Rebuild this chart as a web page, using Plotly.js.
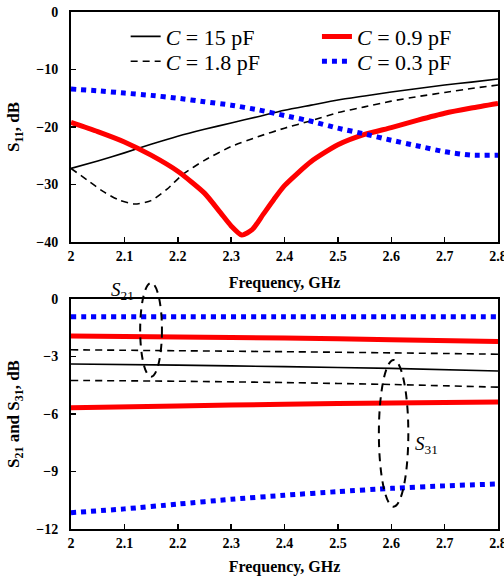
<!DOCTYPE html>
<html>
<head>
<meta charset="utf-8">
<script src="https://cdn.plot.ly/plotly-3.0.1.min.js"></script>
<style>html,body{margin:0;padding:0;background:#fff;}#chart{width:504px;height:581px;}</style>
</head>
<body>
<div id="chart"></div>
<script>
// ---- Top panel: S11 (dB) ----
const freqTop = [2.0,2.05,2.1,2.15,2.2,2.25,2.3,2.35,2.4,2.45,2.5,2.55,2.6,2.65,2.7,2.75,2.8];
const s11_C15 = [-27.2,-25.9,-24.5,-23.0,-21.6,-20.4,-19.3,-18.2,-17.1,-16.2,-15.3,-14.6,-13.9,-13.3,-12.7,-12.2,-11.65];
const s11_C03 = [-13.4,-13.7,-14.1,-14.5,-15.0,-15.6,-16.2,-17.0,-18.0,-19.0,-20.2,-21.2,-22.3,-23.3,-24.3,-24.9,-24.9];
const freqC18 = [2.0,2.03,2.06,2.09,2.12,2.15,2.18,2.21,2.25,2.3,2.35,2.4,2.45,2.5,2.55,2.6,2.65,2.7,2.75,2.8];
const s11_C18 = [-27.2,-29.2,-31.2,-32.7,-33.4,-32.8,-30.8,-28.2,-25.8,-23.4,-21.7,-20.2,-18.9,-17.5,-16.5,-15.5,-14.7,-14.0,-13.3,-12.7];
const freqC09 = [2.0,2.05,2.1,2.15,2.2,2.25,2.28,2.3,2.32,2.34,2.36,2.38,2.4,2.45,2.5,2.55,2.6,2.65,2.7,2.75,2.8];
const s11_C09 = [-19.2,-20.8,-22.6,-24.9,-27.7,-31.5,-34.9,-37.2,-38.8,-37.8,-35.2,-32.6,-30.2,-26.0,-23.1,-21.3,-20.1,-18.8,-17.6,-16.7,-15.9];

// ---- Bottom panel: S21 and S31 (dB) ----
const freqBot = [2.0,2.2,2.4,2.6,2.8];
const s21_C03 = [-0.93,-0.93,-0.93,-0.93,-0.93];
const s21_C09 = [-1.93,-1.98,-2.04,-2.12,-2.22];
const s21_C18 = [-2.65,-2.70,-2.75,-2.81,-2.88];
const s21_C15 = [-3.39,-3.45,-3.53,-3.62,-3.76];
const s31_C18 = [-4.25,-4.29,-4.36,-4.46,-4.60];
const s31_C09 = [-5.67,-5.58,-5.49,-5.42,-5.38];
const freqS31C03 = [2.0,2.1,2.2,2.3,2.4,2.5,2.6,2.7,2.8];
const s31_C03 = [-11.15,-10.95,-10.70,-10.45,-10.24,-10.05,-9.88,-9.75,-9.65];

const legendNames = ['<i>C</i> = 15 pF','<i>C</i> = 1.8 pF','<i>C</i> = 0.9 pF','<i>C</i> = 0.3 pF'];
const tickX = ['2','2.1','2.2','2.3','2.4','2.5','2.6','2.7','2.8'];

const FONT = '"Liberation Serif", "Times New Roman", serif';
const sty = {
  c15: {color:'#000000', width:1.6, dash:'solid'},
  c18: {color:'#000000', width:1.6, dash:'7px,5px'},
  c09: {color:'#ff0000', width:5, dash:'solid'},
  c03: {color:'#0000ff', width:5, dash:'dot'}
};
function tr(x,y,s,name,xa,ya,show,leg){
  const t = {x:x,y:y,type:'scatter',mode:'lines',line:Object.assign({shape:'spline',smoothing:0.6},s),
    name:name,showlegend:show,xaxis:xa,yaxis:ya,hoverinfo:'skip'};
  if(leg) t.legend = leg;
  return t;
}
const data = [
  tr(freqTop,s11_C15,sty.c15,legendNames[0],'x','y',true,'legend'),
  tr(freqC18,s11_C18,sty.c18,legendNames[1],'x','y',true,'legend2'),
  tr(freqC09,s11_C09,sty.c09,legendNames[2],'x','y',true,'legend3'),
  tr(freqTop,s11_C03,sty.c03,legendNames[3],'x','y',true,'legend4'),
  tr(freqBot,s21_C03,sty.c03,'','x2','y2',false),
  tr(freqBot,s21_C09,sty.c09,'','x2','y2',false),
  tr(freqBot,s21_C18,sty.c18,'','x2','y2',false),
  tr(freqBot,s21_C15,sty.c15,'','x2','y2',false),
  tr(freqBot,s31_C18,sty.c18,'','x2','y2',false),
  tr(freqBot,s31_C09,sty.c09,'','x2','y2',false),
  tr(freqS31C03,s31_C03,sty.c03,'','x2','y2',false)
];

const tickFont = {family:FONT,size:14,color:'#000',weight:'bold'};
const titleFont = {family:FONT,size:16,color:'#000',weight:'bold'};
function xAx(anchor,standoff){
  return {anchor:anchor,range:[2,2.8],tickvals:[2,2.1,2.2,2.3,2.4,2.5,2.6,2.7,2.8],ticktext:tickX,
    ticks:'inside',ticklen:5,tickwidth:1.5,tickcolor:'#000',showline:true,linewidth:2,linecolor:'#000',
    mirror:true,showgrid:false,zeroline:false,tickfont:tickFont,ticklabelstandoff:0,ticklabeloverflow:'allow',
    title:{text:'Frequency, GHz',font:titleFont,standoff:standoff},automargin:false,fixedrange:true};
}
function yAx(anchor,domain,range,dt,title){
  return {anchor:anchor,domain:domain,range:range,dtick:dt,tick0:0,
    ticks:'inside',ticklen:5,tickwidth:1.5,tickcolor:'#000',showline:true,linewidth:2,linecolor:'#000',
    mirror:true,showgrid:false,zeroline:false,tickfont:tickFont,ticklabelstandoff:8,ticklabeloverflow:'allow',
    title:{text:title,font:{family:FONT,size:17,color:'#000',weight:'bold'},standoff:12},automargin:false,fixedrange:true};
}
const legFont = {family:FONT,size:22,color:'#000'};
function leg(x,y){
  return {orientation:'v',x:x,y:y,xanchor:'left',yanchor:'top',
    bgcolor:'rgba(0,0,0,0)',borderwidth:0,font:legFont,traceorder:'normal'};
}

const layout = {
  width:504,height:581,
  margin:{l:71,r:6,t:12,b:52},
  paper_bgcolor:'#fff',plot_bgcolor:'#fff',
  font:{family:FONT,color:'#000'},
  xaxis:xAx('y',14),
  yaxis:yAx('x',[0.5551,1],[-40,0],10,'S<sub>11</sub>, dB'),
  xaxis2:xAx('y2',11),
  yaxis2:yAx('x2',[0,0.4449],[-12,0],3,'S<sub>21</sub> and S<sub>31</sub>, dB'),
  showlegend:true,
  legend:leg(0.128,0.993),
  legend2:leg(0.128,0.945),
  legend3:leg(0.576,0.993),
  legend4:leg(0.576,0.945),
  shapes:[
    {type:'circle',xref:'x2 domain',yref:'y2 domain',x0:0.162,x1:0.213,y0:0.662,y1:1.07,
     line:{color:'#000',width:2,dash:'8px,6px'}},
    {type:'circle',xref:'x2 domain',yref:'y2 domain',x0:0.721,x1:0.79,y0:0.097,y1:0.735,
     line:{color:'#000',width:2,dash:'8px,6px'}}
  ],
  annotations:[
    {xref:'x2 domain',yref:'y2 domain',x:0.12,y:1.035,text:'<i>S</i><sub>21</sub>',showarrow:false,
     font:{family:FONT,size:19,color:'#000'},xanchor:'center',yanchor:'middle'},
    {xref:'x2 domain',yref:'y2 domain',x:0.8,y:0.365,text:'<i>S</i><sub>31</sub>',showarrow:false,
     font:{family:FONT,size:19,color:'#000'},xanchor:'left',yanchor:'middle'}
  ]
};

Plotly.newPlot('chart',data,layout,{staticPlot:true,displayModeBar:false});
</script>
</body>
</html>
